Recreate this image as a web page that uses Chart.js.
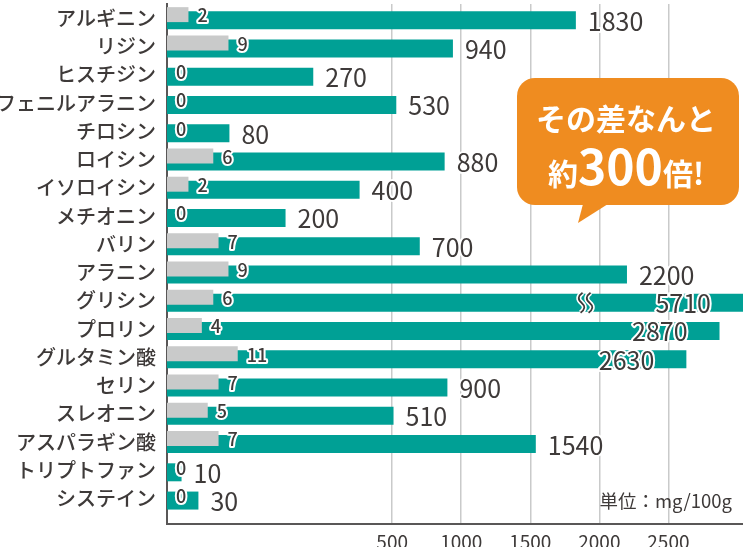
<!DOCTYPE html>
<html lang="ja">
<head>
<meta charset="utf-8">
<script src="https://cdn.jsdelivr.net/npm/chart.js@4/dist/chart.umd.min.js"></script>
<style>
  html, body { margin: 0; padding: 0; background: #fff; }
  #wrap { position: relative; width: 743px; height: 547px; overflow: hidden; }
  .bubble {
    position: absolute; left: 517px; top: 78px; width: 222px; height: 127px;
    background: #ef8c20; border-radius: 18px; color: #fff;
    font-family: "Noto Sans CJK JP", "Noto Sans", sans-serif; font-weight: 700;
    text-align: center;
  }
  .bubble::after {
    content: ""; position: absolute; left: 61px; top: 126px; width: 30px; height: 19px;
    background: #ef8c20; clip-path: polygon(5px 0, 30px 0, 0 19px);
  }
  .bubble .l1 { position: absolute; left: 0; right: 4px; top: 21px; font-size: 30px; line-height: 36px; }
  .bubble .l2 { position: absolute; left: 0; right: 4px; top: 58px; font-size: 30px; line-height: 56px; }
  .bubble .big { font-size: 48px; }
</style>
</head>
<body>
<div id="wrap">
  <canvas id="chart" width="743" height="547"></canvas>
  <div class="bubble"><div class="l1">その差なんと</div><div class="l2">約<span class="big">300</span>倍!</div></div>
</div>
<script>
// amino acids, top to bottom
const categories = [
  "アルギニン", "リジン", "ヒスチジン", "フェニルアラニン", "チロシン", "ロイシン",
  "イソロイシン", "メチオニン", "バリン", "アラニン", "グリシン", "プロリン",
  "グルタミン酸", "セリン", "スレオニン", "アスパラギン酸", "トリプトファン", "システイン"
];
// small (gray) values
const grayValues = [2, 9, 0, 0, 0, 6, 2, 0, 7, 9, 6, 4, 11, 7, 5, 7, 0, 0];
// large (teal) values, mg/100g
const tealValues = [1830, 940, 270, 530, 80, 880, 400, 200, 700, 2200, 5710, 2870, 2630, 900, 510, 1540, 10, 30];
const xTicks = [500, 1000, 1500, 2000, 2500];
const breakMarkValue = 1900;
const unitLabel = "単位：mg/100g";

const TEXT = "#3e3a39";
const FONT = '"Noto Sans CJK JP", "Noto Sans", sans-serif';

// linear scale whose low end is stretched (power curve below breakValue)
class StretchScale extends Chart.LinearScale {
  warp(v) {
    const b = this.options.breakValue, s = this.options.stretch, p = this.options.power;
    if (v <= 0) return 0;
    return v <= b ? s * b * Math.pow(v / b, p) : s * b + (v - b);
  }
  getPixelForValue(value) {
    if (value === null || value === undefined) return NaN;
    const lo = this.warp(this.min), hi = this.warp(this.max);
    return this.getPixelForDecimal((this.warp(value) - lo) / (hi - lo));
  }
}
StretchScale.id = "stretch";
StretchScale.defaults = {};
Chart.register(StretchScale);

const labelPlugin = {
  id: "valueLabels",
  afterDatasetsDraw(chart) {
    const { ctx, chartArea } = chart;
    ctx.save();
    ctx.lineJoin = "round";
    ctx.textBaseline = "middle";
    chart.data.datasets.forEach((ds, di) => {
      const meta = chart.getDatasetMeta(di);
      meta.data.forEach((bar, i) => {
        const v = ds.data[i];
        let x = bar.x + 9;
        ctx.textAlign = "left";
        if (di === 0) {
          ctx.font = `500 18px ${FONT}`;
        } else {
          ctx.font = `400 25px ${FONT}`;
          x = bar.x + 12;
          if (v > 2500) {
            ctx.textAlign = "right";
            x = Math.min(bar.x, chartArea.right) - 32;
          }
        }
        ctx.strokeStyle = "#fff";
        ctx.lineWidth = 4;
        ctx.strokeText(String(v), x, bar.y + 1);
        ctx.fillStyle = TEXT;
        ctx.fillText(String(v), x, bar.y + 1);
      });
    });

    // break mark on the longest bar
    const tealMeta = chart.getDatasetMeta(1);
    const big = tealValues.indexOf(Math.max(...tealValues));
    const bx = chart.scales.x.getPixelForValue(breakMarkValue);
    const by = tealMeta.data[big].y;
    [-4, 4].forEach(dx => {
      const cx = bx + dx;
      const path = () => {
        ctx.beginPath();
        ctx.moveTo(cx + 1, by - 10);
        ctx.quadraticCurveTo(cx - 6, by - 5, cx, by);
        ctx.quadraticCurveTo(cx + 6, by + 5, cx - 1, by + 10);
      };
      path();
      ctx.strokeStyle = "#fff";
      ctx.lineWidth = 5;
      ctx.stroke();
      path();
      ctx.strokeStyle = TEXT;
      ctx.lineWidth = 1.8;
      ctx.stroke();
    });

    // unit
    ctx.font = `400 18.5px ${FONT}`;
    ctx.textAlign = "right";
    ctx.textBaseline = "alphabetic";
    ctx.fillStyle = TEXT;
    ctx.fillText(unitLabel, chartArea.right - 11, chartArea.bottom - 16);
    ctx.restore();
  }
};

new Chart(document.getElementById("chart"), {
  type: "bar",
  data: {
    labels: categories.map((_, i) => i),
    datasets: [
      {
        data: grayValues,
        xAxisID: "x2",
        backgroundColor: "#c9caca",
        categoryPercentage: 0.495,
        barPercentage: 2.14
      },
      {
        data: tealValues,
        xAxisID: "x",
        backgroundColor: "#00a095",
        categoryPercentage: 0.283,
        barPercentage: 4.5
      }
    ]
  },
  options: {
    indexAxis: "y",
    responsive: false,
    animation: false,
    devicePixelRatio: 1,
    layout: { padding: { top: 4, right: 0, bottom: 0, left: 0 } },
    plugins: { legend: { display: false }, tooltip: { enabled: false } },
    scales: {
      y: {
        type: "linear",
        reverse: true,
        offset: false,
        min: -0.5,
        max: 17.9,
        afterBuildTicks: s => { s.ticks = categories.map((_, i) => ({ value: i })); },
        afterFit: s => { s.width = 167; s.paddingTop = 0; s.paddingBottom = 0; },
        grid: { display: false, offset: false, drawTicks: false },
        border: { display: true, color: "#595757", width: 2 },
        ticks: {
          autoSkip: false,
          padding: 11,
          color: TEXT,
          font: { family: FONT, size: 20, weight: 500 },
          callback: v => categories[v]
        }
      },
      x: {
        type: "stretch",
        position: "bottom",
        min: 0,
        max: 3040,
        breakValue: 500,
        stretch: 3.26,
        power: 0.7,
        afterBuildTicks: s => { s.ticks = xTicks.map(v => ({ value: v })); },
        afterFit: s => { s.height = 23; },
        grid: { color: "#c9caca", lineWidth: 1.5, drawTicks: false },
        border: { display: true, color: "#595757", width: 2 },
        ticks: {
          autoSkip: false,
          maxRotation: 0,
          padding: 6,
          color: TEXT,
          font: { family: FONT, size: 19 },
          callback: v => String(v)
        }
      },
      x2: {
        type: "stretch",
        display: false,
        min: 0,
        max: 220,
        breakValue: 220,
        stretch: 1,
        power: 0.7
      }
    }
  },
  plugins: [labelPlugin]
});
</script>
</body>
</html>
